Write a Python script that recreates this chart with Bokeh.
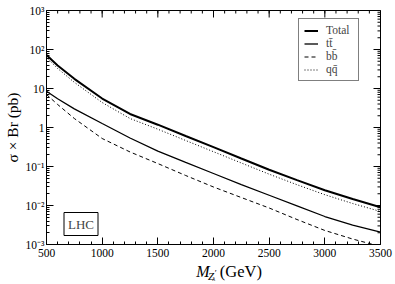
import math
from bokeh.plotting import figure
from bokeh.layouts import column
from bokeh.models import (FixedTicker, CustomJSTickFormatter, Label, Legend, LegendItem, Range1d)
from bokeh.core.properties import value
from bokeh.embed import file_html
from bokeh.resources import INLINE

# ---- data ----
mass = [500, 600, 750, 1000, 1250, 1500, 1750, 2000, 2250, 2500, 2750, 3000, 3250, 3500]
total = [72.3, 38.9, 17.7, 5.54, 2.22, 1.18, 0.605, 0.313, 0.160, 0.0828, 0.0446, 0.0247, 0.0147, 0.00904]
ttbar = [8.53, 5.45, 3.01, 1.27, 0.538, 0.249, 0.127, 0.0662, 0.0345, 0.0183, 0.00977, 0.00522, 0.00316, 0.00207]
bbbar = [7.01, 3.89, 1.70, 0.522, 0.236, 0.119, 0.0588, 0.0298, 0.0160, 0.00863, 0.00437, 0.00229, 0.00138, 0.00089]
qqbar = [62.4, 32.6, 14.4, 4.37, 1.70, 0.904, 0.464, 0.239, 0.123, 0.0635, 0.0341, 0.0189, 0.01125, 0.00702]

x_ticks = [500, 1000, 1500, 2000, 2500, 3000, 3500]
x_minor = list(range(500, 3501, 100))
y_ticks = [1e-3, 1e-2, 1e-1, 1, 10, 100, 1000]
y_minor = [k * 10.0 ** d for d in range(-3, 3) for k in range(2, 10)]
legend_labels = ["Total", "tt\u0304", "bb\u0304", "qq\u0304"]
y_label = "\u03c3 \u00d7 Br (pb)"
x_min, x_max = 500, 3500
y_min, y_max = 1e-3, 1e3

FONT = "Liberation Serif"
W = 395
H_MAIN = 259
H_XLAB = 25

p = figure(width=W, height=H_MAIN, output_backend="svg", toolbar_location=None,
           y_axis_type="log", x_range=Range1d(x_min, x_max), y_range=Range1d(y_min, y_max),
           min_border_left=41, min_border_right=15, min_border_top=10, min_border_bottom=15)
p.outline_line_color = "black"
p.outline_line_width = 1
p.xgrid.visible = False
p.ygrid.visible = False
p.background_fill_color = "white"
p.border_fill_color = "white"

ylab_code = """
const e = Math.round(Math.log10(tick));
const sup = {'-3':'\u207b\u00b3','-2':'\u207b\u00b2','-1':'\u207b\u00b9','2':'\u00b2','3':'\u00b3'};
if (e == 0) return '1';
if (e == 1) return '10';
return '10' + sup[String(e)];
"""

def style_axis(ax, standoff):
    ax.axis_line_color = None
    ax.major_tick_in = 7
    ax.major_tick_out = 0
    ax.minor_tick_in = 3
    ax.minor_tick_out = 0
    ax.major_tick_line_color = "black"
    ax.minor_tick_line_color = "black"
    ax.major_label_text_font = FONT
    ax.major_label_text_font_size = "11.5px"
    ax.major_label_text_color = "black"
    ax.major_label_standoff = standoff

p.xaxis.ticker = FixedTicker(ticks=x_ticks, minor_ticks=x_minor)
p.yaxis.ticker = FixedTicker(ticks=y_ticks, minor_ticks=y_minor)
p.yaxis.formatter = CustomJSTickFormatter(code=ylab_code)
for ax in p.xaxis:
    style_axis(ax, 4)
for ax in p.yaxis:
    style_axis(ax, 2)
p.yaxis.axis_label = y_label
p.yaxis.axis_label_text_font = FONT
p.yaxis.axis_label_text_font_size = "15.5px"
p.yaxis.axis_label_text_font_style = "normal"
p.yaxis.axis_label_text_color = "black"
p.yaxis.axis_label_standoff = 2

# mirrored inward ticks on top and right edges (half of each dash is clipped by the frame)
p.scatter(x_ticks, [y_max] * len(x_ticks), marker="dash", size=14, angle=math.pi / 2,
          line_color="black", line_width=1)
p.scatter(x_minor, [y_max] * len(x_minor), marker="dash", size=6, angle=math.pi / 2,
          line_color="black", line_width=1)
p.scatter([x_max] * len(y_ticks), y_ticks, marker="dash", size=14,
          line_color="black", line_width=1)
p.scatter([x_max] * len(y_minor), y_minor, marker="dash", size=6,
          line_color="black", line_width=1)

r_tot = p.line(mass, total, line_color="black", line_width=2)
r_tt = p.line(mass, ttbar, line_color="black", line_width=1.3)
r_bb = p.line(mass, bbbar, line_color="black", line_width=1, line_dash="4 3")
r_qq = p.line(mass, qqbar, line_color="black", line_width=1, line_dash="1 2")

legend = Legend(items=[LegendItem(label=legend_labels[0], renderers=[r_tot]),
                       LegendItem(label=legend_labels[1], renderers=[r_tt]),
                       LegendItem(label=legend_labels[2], renderers=[r_bb]),
                       LegendItem(label=legend_labels[3], renderers=[r_qq])],
                location=(252, 163), orientation="vertical")
legend.label_text_font = FONT
legend.label_text_font_size = "11.5px"
legend.label_height = 11
legend.glyph_height = 11
legend.glyph_width = 14
legend.label_width = 27
legend.spacing = 1
legend.padding = 5
legend.margin = 0
legend.label_standoff = 8
legend.border_line_color = "black"
legend.border_line_width = 1
legend.background_fill_color = "white"
legend.background_fill_alpha = 1
p.add_layout(legend, "center")

# LHC box
p.add_layout(Label(x=34.5, y=20.5, x_units="screen", y_units="screen", text="LHC",
                   text_font=FONT, text_font_size="13px", text_align="center",
                   text_baseline="middle", border_line_color="black",
                   background_fill_color="white", padding=4))

# strip below the plot carrying the x-axis title  M_{Z'_lambda} (GeV)
q = figure(width=W, height=H_XLAB, output_backend="svg", toolbar_location=None,
           x_range=Range1d(0, W), y_range=Range1d(H_XLAB, 0),
           min_border=0, min_border_left=0, min_border_right=0,
           min_border_top=0, min_border_bottom=0)
q.axis.visible = False
q.grid.visible = False
q.outline_line_color = None
q.background_fill_color = "white"
q.border_fill_color = "white"

base = 271 - H_MAIN  # baseline of the title in the strip
q.text(x=[177], y=[base], text=["M"], text_font=value(FONT), text_font_size="16px",
       text_font_style="italic", text_align="left", text_baseline="alphabetic", text_color="black")
q.text(x=[191], y=[base + 4], text=["Z"], text_font=value(FONT), text_font_size="11px",
       text_font_style="italic", text_align="left", text_baseline="alphabetic", text_color="black")
q.text(x=[199], y=[base + 1], text=["\u2032"], text_font=value(FONT), text_font_size="9px",
       text_align="left", text_baseline="alphabetic", text_color="black")
q.text(x=[196], y=[base + 7], text=["\u03bb"], text_font=value(FONT), text_font_size="7px",
       text_font_style="italic", text_align="left", text_baseline="alphabetic", text_color="black")
q.text(x=[205], y=[base], text=["(GeV)"], text_font=value(FONT), text_font_size="16.5px",
       text_align="left", text_baseline="alphabetic", text_color="black")

layout = column(p, q, spacing=0)
open("out.html", "w").write(file_html(layout, INLINE))
